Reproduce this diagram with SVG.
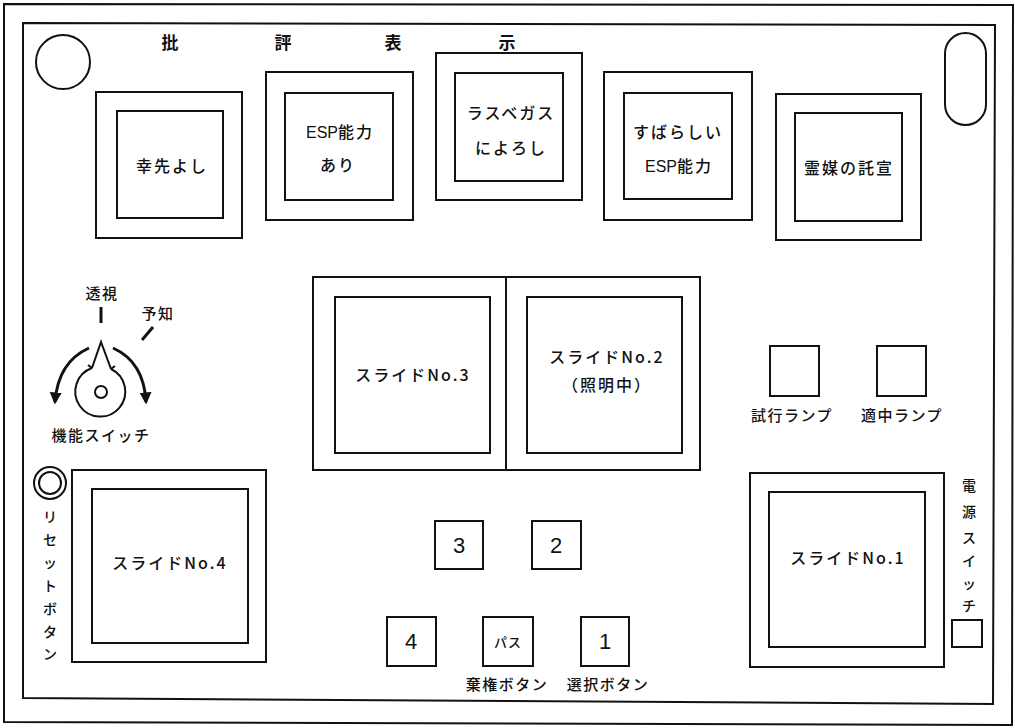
<svg xmlns="http://www.w3.org/2000/svg" width="1015" height="728" viewBox="0 0 1015 728">
<style>
  .ln{fill:none;stroke:#111;stroke-width:2}
  .bx{fill:#fff;stroke:#111;stroke-width:2}
  .t{font-family:"Noto Sans CJK JP","Liberation Sans",sans-serif;fill:#111;text-anchor:middle;font-weight:500}
  .lbl{font-size:16px;letter-spacing:2px}
  .sm{font-size:15px;letter-spacing:1.5px}
  .vt{font-size:14px}
  .ttl{font-size:17px;font-weight:bold}
  .num{font-family:"Liberation Sans",Arial,sans-serif;font-size:22px;fill:#111;text-anchor:middle}
</style>
<defs>
  <marker id="ah" viewBox="0 0 10 10" refX="8" refY="5" markerWidth="4" markerHeight="4.5" orient="auto" markerUnits="strokeWidth">
    <path d="M0 0 L10 5 L0 10 Z" fill="#111"/>
  </marker>
</defs>
<rect width="1015" height="728" fill="#fff"/>
<g id="frame">
  <polygon class="ln" points="4,4 1013,5 1012,725 4,722"/>
  <polygon class="ln" points="23,23 995,25 993,704 23,698"/>
  <circle class="ln" cx="63" cy="62" r="27"/>
  <rect class="ln" x="945" y="33" width="41" height="92" rx="20.5"/>
</g>
<g id="title">
  <text class="t ttl" x="170" y="49">批</text>
  <text class="t ttl" x="283" y="49">評</text>
  <text class="t ttl" x="393" y="49">表</text>
  <text class="t ttl" x="507" y="49">示</text>
</g>
<g id="critique1">
  <rect class="bx" x="96" y="92" width="146" height="146"/>
  <rect class="bx" x="117" y="111" width="106" height="107"/>
  <text class="t lbl" x="172" y="172">幸先よし</text>
</g>
<g id="critique2">
  <rect class="bx" x="266" y="72" width="147" height="148"/>
  <rect class="bx" x="285" y="93" width="108" height="107"/>
  <text class="t lbl" x="340" y="138"><tspan font-family="Liberation Sans,sans-serif" letter-spacing="0">ESP</tspan>能力</text>
  <text class="t lbl" x="338" y="171">あり</text>
</g>
<g id="critique3">
  <rect class="bx" x="436" y="53" width="146" height="147"/>
  <rect class="bx" x="455" y="73" width="108" height="108"/>
  <text class="t lbl" x="511" y="119">ラスベガス</text>
  <text class="t lbl" x="511" y="154">によろし</text>
</g>
<g id="critique4">
  <rect class="bx" x="604" y="72" width="148" height="148"/>
  <rect class="bx" x="624" y="93" width="108" height="106"/>
  <text class="t lbl" x="678" y="138">すばらしい</text>
  <text class="t lbl" x="679" y="172"><tspan font-family="Liberation Sans,sans-serif" letter-spacing="0">ESP</tspan>能力</text>
</g>
<g id="critique5">
  <rect class="bx" x="776" y="94" width="145" height="146"/>
  <rect class="bx" x="795" y="113" width="107" height="108"/>
  <text class="t lbl" x="849" y="174" letter-spacing="0.5">霊媒の託宣</text>
</g>
<g id="function-switch">
  <text class="t sm" x="102" y="299">透視</text>
  <text class="t sm" x="158" y="319">予知</text>
  <line x1="101" y1="307" x2="101" y2="323" stroke="#111" stroke-width="3"/>
  <line x1="142" y1="340" x2="153" y2="327" stroke="#111" stroke-width="3"/>
  <path class="ln" d="M92 368 L101 342 L111 369 M88 365 L92 368 M111 369 L115 366"/>
  <path class="ln" d="M92 368 A25 25 0 1 0 111 369"/>
  <circle class="ln" cx="101" cy="392" r="6"/>
  <path d="M89 348 Q58 362 55 402" fill="none" stroke="#111" stroke-width="3" marker-end="url(#ah)"/>
  <path d="M113 348 Q144 362 146 402" fill="none" stroke="#111" stroke-width="3" marker-end="url(#ah)"/>
  <text class="t sm" x="101" y="441">機能スイッチ</text>
</g>
<g id="slide3">
  <rect class="bx" x="313" y="277" width="193" height="193"/>
  <rect class="bx" x="335" y="297" width="155" height="156"/>
  <text class="t lbl" x="413" y="381">スライドNo.3</text>
</g>
<g id="slide2">
  <rect class="bx" x="506" y="277" width="194" height="193"/>
  <rect class="bx" x="527" y="297" width="155" height="156"/>
  <text class="t lbl" x="607" y="363">スライドNo.2</text>
  <text class="t lbl" x="607" y="391">（照明中）</text>
</g>
<g id="trial-lamp">
  <rect class="bx" x="770" y="346" width="49" height="50"/>
  <text class="t sm" x="792" y="421">試行ランプ</text>
</g>
<g id="hit-lamp">
  <rect class="bx" x="877" y="346" width="49" height="50"/>
  <text class="t sm" x="902" y="421">適中ランプ</text>
</g>
<g id="reset-button">
  <circle class="ln" cx="50" cy="483" r="16"/>
  <circle class="ln" cx="50" cy="483" r="11"/>
  <text class="t vt" x="50"><tspan x="50" y="522">リ</tspan><tspan x="50" y="545">セ</tspan><tspan x="50" y="568">ッ</tspan><tspan x="50" y="591">ト</tspan><tspan x="50" y="614">ボ</tspan><tspan x="50" y="637">タ</tspan><tspan x="50" y="659">ン</tspan></text>
</g>
<g id="slide4">
  <rect class="bx" x="72" y="470" width="194" height="192"/>
  <rect class="bx" x="92" y="489" width="156" height="154"/>
  <text class="t lbl" x="170" y="569">スライドNo.4</text>
</g>
<g id="button3">
  <rect class="bx" x="435" y="521" width="48" height="48"/>
  <text class="num" x="459" y="553">3</text>
</g>
<g id="button2">
  <rect class="bx" x="532" y="521" width="49" height="48"/>
  <text class="num" x="556" y="553">2</text>
</g>
<g id="button4">
  <rect class="bx" x="387" y="617" width="49" height="49"/>
  <text class="num" x="411" y="649">4</text>
</g>
<g id="pass-button">
  <rect class="bx" x="483" y="617" width="50" height="49"/>
  <text class="t" x="508" y="647" font-size="13" letter-spacing="1">パス</text>
</g>
<g id="button1">
  <rect class="bx" x="581" y="617" width="48" height="49"/>
  <text class="num" x="605" y="649">1</text>
</g>
<g id="button-labels">
  <text class="t sm" x="507" y="690">棄権ボタン</text>
  <text class="t sm" x="608" y="690">選択ボタン</text>
</g>
<g id="slide1">
  <rect class="bx" x="750" y="473" width="194" height="194"/>
  <rect class="bx" x="769" y="492" width="156" height="155"/>
  <text class="t lbl" x="848" y="564">スライドNo.1</text>
</g>
<g id="power-switch">
  <text class="t vt" x="969"><tspan x="969" y="491">電</tspan><tspan x="969" y="517">源</tspan><tspan x="969" y="543">ス</tspan><tspan x="969" y="566">イ</tspan><tspan x="969" y="589">ッ</tspan><tspan x="969" y="611">チ</tspan></text>
  <rect class="bx" x="952" y="620" width="30" height="27"/>
</g>
</svg>
